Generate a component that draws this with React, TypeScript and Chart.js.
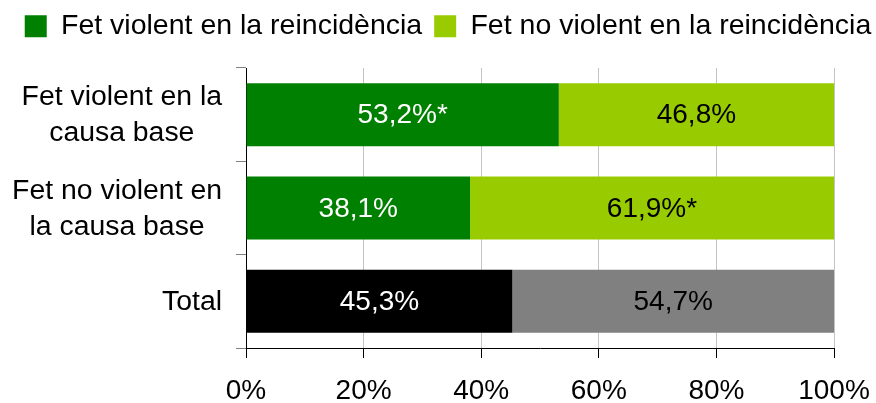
import React, { useEffect, useRef } from "react";
import { Chart, registerables } from "chart.js";

Chart.register(...registerables);

const CATEGORIES: string[][] = [
  ["Fet violent en la", "causa base"],
  ["Fet no violent en", "la causa base"],
  ["Total"],
];
const SERIES_NAMES = ["Fet violent en la reincidència", "Fet no violent en la reincidència"];
const VIOLENT = [53.2, 38.1, 45.3];
const NON_VIOLENT = [46.8, 61.9, 54.7];
const VIOLENT_SIG = [true, false, false];
const NON_VIOLENT_SIG = [false, true, false];
const X_TICKS = [0, 20, 40, 60, 80, 100];

const FONT = "'Liberation Sans', Arial, sans-serif";
const DARK_GREEN = "#008000";
const LIGHT_GREEN = "#99CC00";

const fmt = (v: number, sig: boolean) => v.toFixed(1).replace(".", ",") + "%" + (sig ? "*" : "");

const VIOLENT_COLORS = [DARK_GREEN, DARK_GREEN, "#000000"];
const NON_VIOLENT_COLORS = [LIGHT_GREEN, LIGHT_GREEN, "#808080"];
const VIOLENT_TEXT = ["#ffffff", "#ffffff", "#ffffff"];
const NON_VIOLENT_TEXT = ["#000000", "#000000", "#000000"];

export default function App() {
  const ref = useRef<HTMLCanvasElement | null>(null);
  useEffect(() => {
    document.body.style.margin = "0";
    const canvas = ref.current;
    if (!canvas) return;

    const layoutPlugin = {
      id: "layoutTweaks",
      beforeLayout(chart: any) {
        const lg = chart.legend;
        if (lg && !lg.__patched) {
          const orig = lg.fit;
          lg.fit = function () {
            const mw = this.maxWidth;
            this.maxWidth = 3000;
            orig.call(this);
            this.maxWidth = mw;
            this.width = mw;
            this.height = 68;
          };
          lg.__patched = true;
        }
      },
      afterLayout(chart: any) {
        const lg = chart.legend;
        if (lg) {
          lg.left = -100;
          lg.right = 996;
        }
      },
    };

    const labelPlugin = {
      id: "barLabels",
      afterDatasetsDraw(chart: any) {
        const ctx = chart.ctx;
        const texts = [
          VIOLENT.map((v, i) => fmt(v, VIOLENT_SIG[i])),
          NON_VIOLENT.map((v, i) => fmt(v, NON_VIOLENT_SIG[i])),
        ];
        const colors = [VIOLENT_TEXT, NON_VIOLENT_TEXT];
        ctx.save();
        ctx.font = `28px ${FONT}`;
        ctx.textAlign = "center";
        ctx.textBaseline = "middle";
        chart.data.datasets.forEach((_d: any, i: number) => {
          const meta = chart.getDatasetMeta(i);
          meta.data.forEach((bar: any, j: number) => {
            const p = bar.getCenterPoint();
            ctx.fillStyle = colors[i][j];
            ctx.fillText(texts[i][j], p.x, p.y + 1);
          });
        });
        ctx.restore();
      },
      afterDraw(chart: any) {
        const ctx = chart.ctx;
        const ys = chart.scales.y;
        ctx.save();
        ctx.font = `28.4px ${FONT}`;
        ctx.fillStyle = "#000000";
        ctx.textAlign = "center";
        ctx.textBaseline = "middle";
        const right = ys.right - 24;
        CATEGORIES.forEach((lines, j) => {
          const yc = ys.getPixelForValue(j);
          const widest = Math.max(...lines.map((l) => ctx.measureText(l).width));
          const xc = right - widest / 2;
          lines.forEach((l, k) => {
            ctx.fillText(l, xc, yc + (k - (lines.length - 1) / 2) * 36 + 1);
          });
        });
        ctx.restore();
      },
    };

    const chart = new Chart(canvas, {
      type: "bar",
      data: {
        labels: CATEGORIES.map((c) => c.join(" ")),
        datasets: [
          {
            label: SERIES_NAMES[0],
            data: VIOLENT,
            backgroundColor: VIOLENT_COLORS,
            borderWidth: 0,
            barPercentage: 0.675,
            categoryPercentage: 1,
          },
          {
            label: SERIES_NAMES[1],
            data: NON_VIOLENT,
            backgroundColor: NON_VIOLENT_COLORS,
            borderWidth: 0,
            barPercentage: 0.675,
            categoryPercentage: 1,
          },
        ],
      },
      options: {
        indexAxis: "y",
        animation: false,
        responsive: false,
        maintainAspectRatio: false,
        layout: { padding: 0 },
        plugins: {
          tooltip: { enabled: false },
          legend: {
            position: "top",
            align: "center",
            labels: {
              color: "#000000",
              font: { size: 28.5, family: FONT },
              boxWidth: 22,
              boxHeight: 22,
              padding: 12,
              generateLabels: (chart: any) => {
                const base = Chart.defaults.plugins.legend.labels.generateLabels(chart);
                const cols = [DARK_GREEN, LIGHT_GREEN];
                return base.map((it: any, i: number) => ({
                  ...it,
                  fillStyle: cols[i],
                  strokeStyle: cols[i],
                  lineWidth: 0,
                }));
              },
            },
          },
        },
        scales: {
          x: {
            stacked: true,
            min: 0,
            max: 100,
            afterBuildTicks: (s: any) => {
              s.ticks = X_TICKS.map((v) => ({ value: v }));
            },
            afterFit: (s: any) => {
              s.height = 55;
              s.paddingRight = 42;
              s.paddingLeft = 0;
            },
            ticks: {
              color: "#000000",
              font: { size: 28, family: FONT },
              padding: 16,
              maxRotation: 0,
              callback: (v: any) => v + "%",
            },
            grid: {
              color: "#c4c4c4",
              tickColor: "#000000",
              tickLength: 10,
              lineWidth: 1,
            },
            border: { color: "#000000", width: 1 },
          },
          y: {
            stacked: true,
            afterFit: (s: any) => {
              s.width = 246;
            },
            ticks: { display: false },
            grid: {
              drawOnChartArea: false,
              offset: true,
              tickLength: 10,
              color: "#808080",
            },
            border: { color: "#000000", width: 1 },
          },
        },
      },
      plugins: [layoutPlugin, labelPlugin],
    } as any);
    return () => chart.destroy();
  }, []);

  return (
    <div style={{ width: 876, height: 403, position: "relative" }}>
      <canvas ref={ref} width={876} height={403} />
    </div>
  );
}
